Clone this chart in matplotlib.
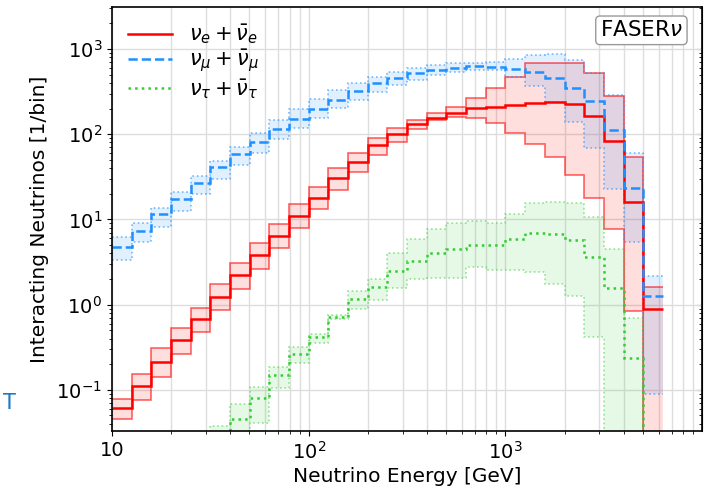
import numpy as np
import matplotlib
matplotlib.use('Agg')
import matplotlib.pyplot as plt
from matplotlib.ticker import LogLocator, NullFormatter

# bin edges: 10 bins per decade from 10 GeV to 10^3.8 GeV
edges = np.logspace(1.0, 3.8, 29)

# nu_e + nubar_e
nue_center = [0.061, 0.112, 0.213, 0.383, 0.670, 1.24, 2.22, 3.81, 6.37, 10.9,
              17.9, 30.3, 46.7, 74.6, 99.6, 132, 156, 179, 201, 207,
              220, 234, 241, 226, 163, 83, 16.1, 0.879]
nue_upper = [0.079, 0.153, 0.306, 0.534, 0.918, 1.77, 3.10, 5.32, 8.8, 15.1,
             24.2, 39.7, 60.6, 89.4, 117, 147, 177, 207, 264, 351,
             465, 680, 690, 690, 527, 281, 54.5, 1.62]
nue_lower = [0.0449, 0.0757, 0.140, 0.267, 0.480, 0.862, 1.51, 2.59, 4.57, 7.85,
             13.1, 22.1, 36.2, 56.9, 81.6, 114, 147, 160, 154, 134,
             102, 76.7, 54.4, 33, 17.8, 7.64, 0.845, 0.001]

# nu_mu + nubar_mu
numu_center = [4.8, 7.4, 11.5, 17.5, 26.9, 41, 59, 81.6, 114, 152,
               196, 252, 319, 395, 453, 518, 567, 604, 631, 620,
               590, 542, 457, 353, 245, 112, 23.1, 1.28]
numu_upper = [6.2, 9.2, 13.8, 21.1, 32.5, 48.9, 71, 102, 147, 196,
              257, 330, 402, 473, 542, 604, 644, 680, 680, 695,
              770, 851, 873, 743, 527, 288, 59.6, 2.16]
numu_lower = [3.33, 5.4, 8.2, 12.6, 19.7, 29.8, 44, 61, 88, 117,
              154, 201, 252, 315, 378, 433, 495, 542, 567, 560,
              469, 368, 239, 140, 68.3, 22.5, 5.37, 0.0906]

# nu_tau + nubar_tau
nutau_center = [0.003, 0.005, 0.008, 0.012, 0.018, 0.027, 0.0461, 0.0792, 0.149, 0.262,
                0.412, 0.719, 1.15, 1.59, 2.49, 3.24, 4.06, 4.45, 5.0, 5.0,
                5.83, 6.86, 6.73, 5.7, 3.58, 1.55, 0.237, 0.001]
nutau_upper = [0.004, 0.007, 0.011, 0.017, 0.026, 0.0375, 0.069, 0.108, 0.186, 0.32,
               0.451, 0.753, 1.45, 2.01, 3.99, 5.83, 7.64, 9.13, 9.64, 9.13,
               11.6, 15.4, 16.1, 15.7, 10.7, 4.45, 0.689, 0.001]
nutau_lower = [0.002, 0.003, 0.005, 0.008, 0.012, 0.017, 0.028, 0.041, 0.105, 0.204,
               0.356, 0.67, 0.90, 1.13, 1.55, 2.0, 2.03, 2.03, 2.78, 2.54,
               2.54, 2.43, 1.74, 1.26, 0.419, 0.001, 0.001, 0.001]

red = '#ff0000'
blue = '#1e90ff'
green = '#32cd32'

fig = plt.figure(figsize=(7.04, 4.90), dpi=100)
ax = fig.add_axes([0.159, 0.1204, 0.8385, 0.8653])

# bands
ax.stairs(nue_upper, edges, baseline=nue_lower, fill=True, color=red, alpha=0.13, lw=0)
ax.stairs(numu_upper, edges, baseline=numu_lower, fill=True, color=blue, alpha=0.13, lw=0)
ax.stairs(nutau_upper, edges, baseline=nutau_lower, fill=True, color=green, alpha=0.12, lw=0)

for arr in (nue_upper, nue_lower):
    ax.stairs(arr, edges, baseline=None, color=red, lw=1.2, alpha=0.6)
for arr in (numu_upper, numu_lower):
    ax.stairs(arr, edges, baseline=None, color=blue, lw=1.2, alpha=0.6, ls=':')
for arr in (nutau_upper, nutau_lower):
    ax.stairs(arr, edges, baseline=None, color=green, lw=1.2, alpha=0.5, ls=':')

# central values
ax.stairs(nue_center, edges, baseline=None, color=red, lw=1.8,
          label=r'$\nu_e + \bar{\nu}_e$')
ax.stairs(numu_center, edges, baseline=None, color=blue, lw=1.8, ls='--',
          label=r'$\nu_\mu + \bar{\nu}_\mu$')
ax.stairs(nutau_center, edges, baseline=None, color=green, lw=1.8, ls=':',
          label=r'$\nu_\tau + \bar{\nu}_\tau$')

ax.set_xscale('log')
ax.set_yscale('log')
ax.set_xlim(10, 1e4)
ax.set_ylim(10 ** -1.483, 10 ** 3.493)

ax.set_xticks([10, 100, 1000], ['10', r'$10^2$', r'$10^3$'])
ax.xaxis.set_minor_locator(LogLocator(base=10, subs=np.arange(2, 10), numticks=20))
ax.xaxis.set_minor_formatter(NullFormatter())
ax.yaxis.set_major_locator(LogLocator(base=10, numticks=20))
ax.yaxis.set_minor_locator(LogLocator(base=10, subs=np.arange(2, 10), numticks=20))
ax.yaxis.set_minor_formatter(NullFormatter())

ax.grid(which='major', color='#dddddd', lw=1)
ax.grid(which='minor', axis='x', color='#dddddd', lw=1)
ax.set_axisbelow(True)
ax.tick_params(which='both', labelsize=14)

sec = ax.secondary_yaxis('right')
sec.tick_params(which='both', direction='in', labelright=False)

for sp in ax.spines.values():
    sp.set_linewidth(1.2)

ax.set_xlabel('Neutrino Energy [GeV]', fontsize=14.5, labelpad=3)
ax.set_ylabel('Interacting Neutrinos [1/bin]', fontsize=14.5, labelpad=5)

ax.legend(loc='upper left', frameon=False, fontsize=15, handlelength=2.15,
          labelspacing=0.08, borderaxespad=0.45, borderpad=0.3)

ax.text(0.967, 0.945, r'FASER$\nu$', transform=ax.transAxes, ha='right', va='center',
        fontsize=15.5, bbox=dict(boxstyle='round,pad=0.2', fc='white', ec='#999999'))

fig.text(0.004, 0.165, 'T', color='#1a7ac8', fontsize=15)

fig.savefig('out.png', dpi=100)
